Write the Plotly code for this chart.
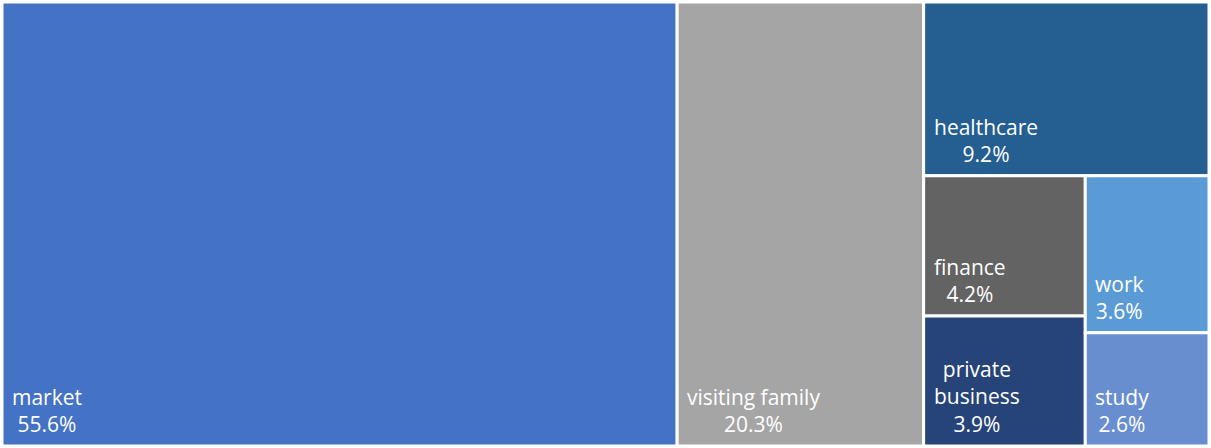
import plotly.graph_objects as go

# Share of trips by purpose (percent)
categories = ["market", "visiting family", "healthcare", "finance",
              "private business", "work", "study"]
shares = [55.6, 20.3, 9.2, 4.2, 3.9, 3.6, 2.6]
# Text shown inside each tile (long names broken onto two lines)
tile_text = ["market", "visiting family", "healthcare", "finance",
             "private<br>business", "work", "study"]
colors = ["#4472C4", "#A5A5A5", "#255E91", "#636363",
          "#264478", "#5B9BD5", "#698ED0"]

FIG_W, FIG_H = 1211, 448
MARGIN = 2
PLOT_W, PLOT_H = FIG_W - 2 * MARGIN, FIG_H - 2 * MARGIN


def squarify(values, x0, y0, x1, y1, ratio=1.0):
    """Squarified tiling (same rules as d3-hierarchy's treemapSquarify)."""
    rects = [None] * len(values)
    order = sorted(range(len(values)), key=lambda k: -values[k])
    vals = [values[k] for k in order]
    total = sum(vals)
    i0 = i1 = 0
    n = len(vals)
    while i0 < n:
        dx, dy = x1 - x0, y1 - y0
        s = vals[i1]
        i1 += 1
        vmin = vmax = s
        alpha = max(dy / dx, dx / dy) / (total * ratio)
        beta = s * s * alpha
        min_ratio = max(vmax / beta, beta / vmin)
        while i1 < n:
            v = vals[i1]
            s += v
            vmin, vmax = min(vmin, v), max(vmax, v)
            beta = s * s * alpha
            new_ratio = max(vmax / beta, beta / vmin)
            if new_ratio > min_ratio:
                s -= v
                break
            min_ratio = new_ratio
            i1 += 1
        row = range(i0, i1)
        if dx < dy:
            # horizontal band across the top
            ny = y0 + dy * s / total
            cx = x0
            for j in row:
                w = dx * vals[j] / s
                rects[order[j]] = (cx, y0, cx + w, ny)
                cx += w
            y0 = ny
        else:
            # vertical column on the left
            nx = x0 + dx * s / total
            cy = y0
            for j in row:
                h = dy * vals[j] / s
                rects[order[j]] = (x0, cy, nx, cy + h)
                cy += h
            x0 = nx
        total -= s
        i0 = i1
    return rects


fig = go.Figure(
    go.Treemap(
        labels=categories,
        parents=[""] * len(categories),
        values=shares,
        sort=True,
        textinfo="none",
        marker=dict(colors=colors, line=dict(color="white", width=3),
                    pad=dict(t=0, l=0, r=0, b=0)),
        tiling=dict(packing="squarify", squarifyratio=1, pad=0),
        pathbar=dict(visible=False),
        root=dict(color="white"),
        hovertemplate="%{label}: %{value:.1f}%<extra></extra>",
    )
)

# Data labels anchored at the bottom-left corner of each tile
tiles = squarify(shares, 0, 0, PLOT_W, PLOT_H)
for (tx0, ty0, tx1, ty1), name, share in zip(tiles, tile_text, shares):
    fig.add_annotation(
        x=tx0 / PLOT_W,
        y=1 - ty1 / PLOT_H,
        xref="paper",
        yref="paper",
        xanchor="left",
        yanchor="bottom",
        align="center",
        xshift=8,
        yshift=6,
        showarrow=False,
        text=f"{name}<br>{share:.1f}%",
        font=dict(family="Open Sans, sans-serif", size=21, color="white"),
    )

fig.update_layout(
    width=FIG_W,
    height=FIG_H,
    margin=dict(l=MARGIN, r=MARGIN, t=MARGIN, b=MARGIN),
    paper_bgcolor="white",
    showlegend=False,
)

fig.write_html("out.html")
